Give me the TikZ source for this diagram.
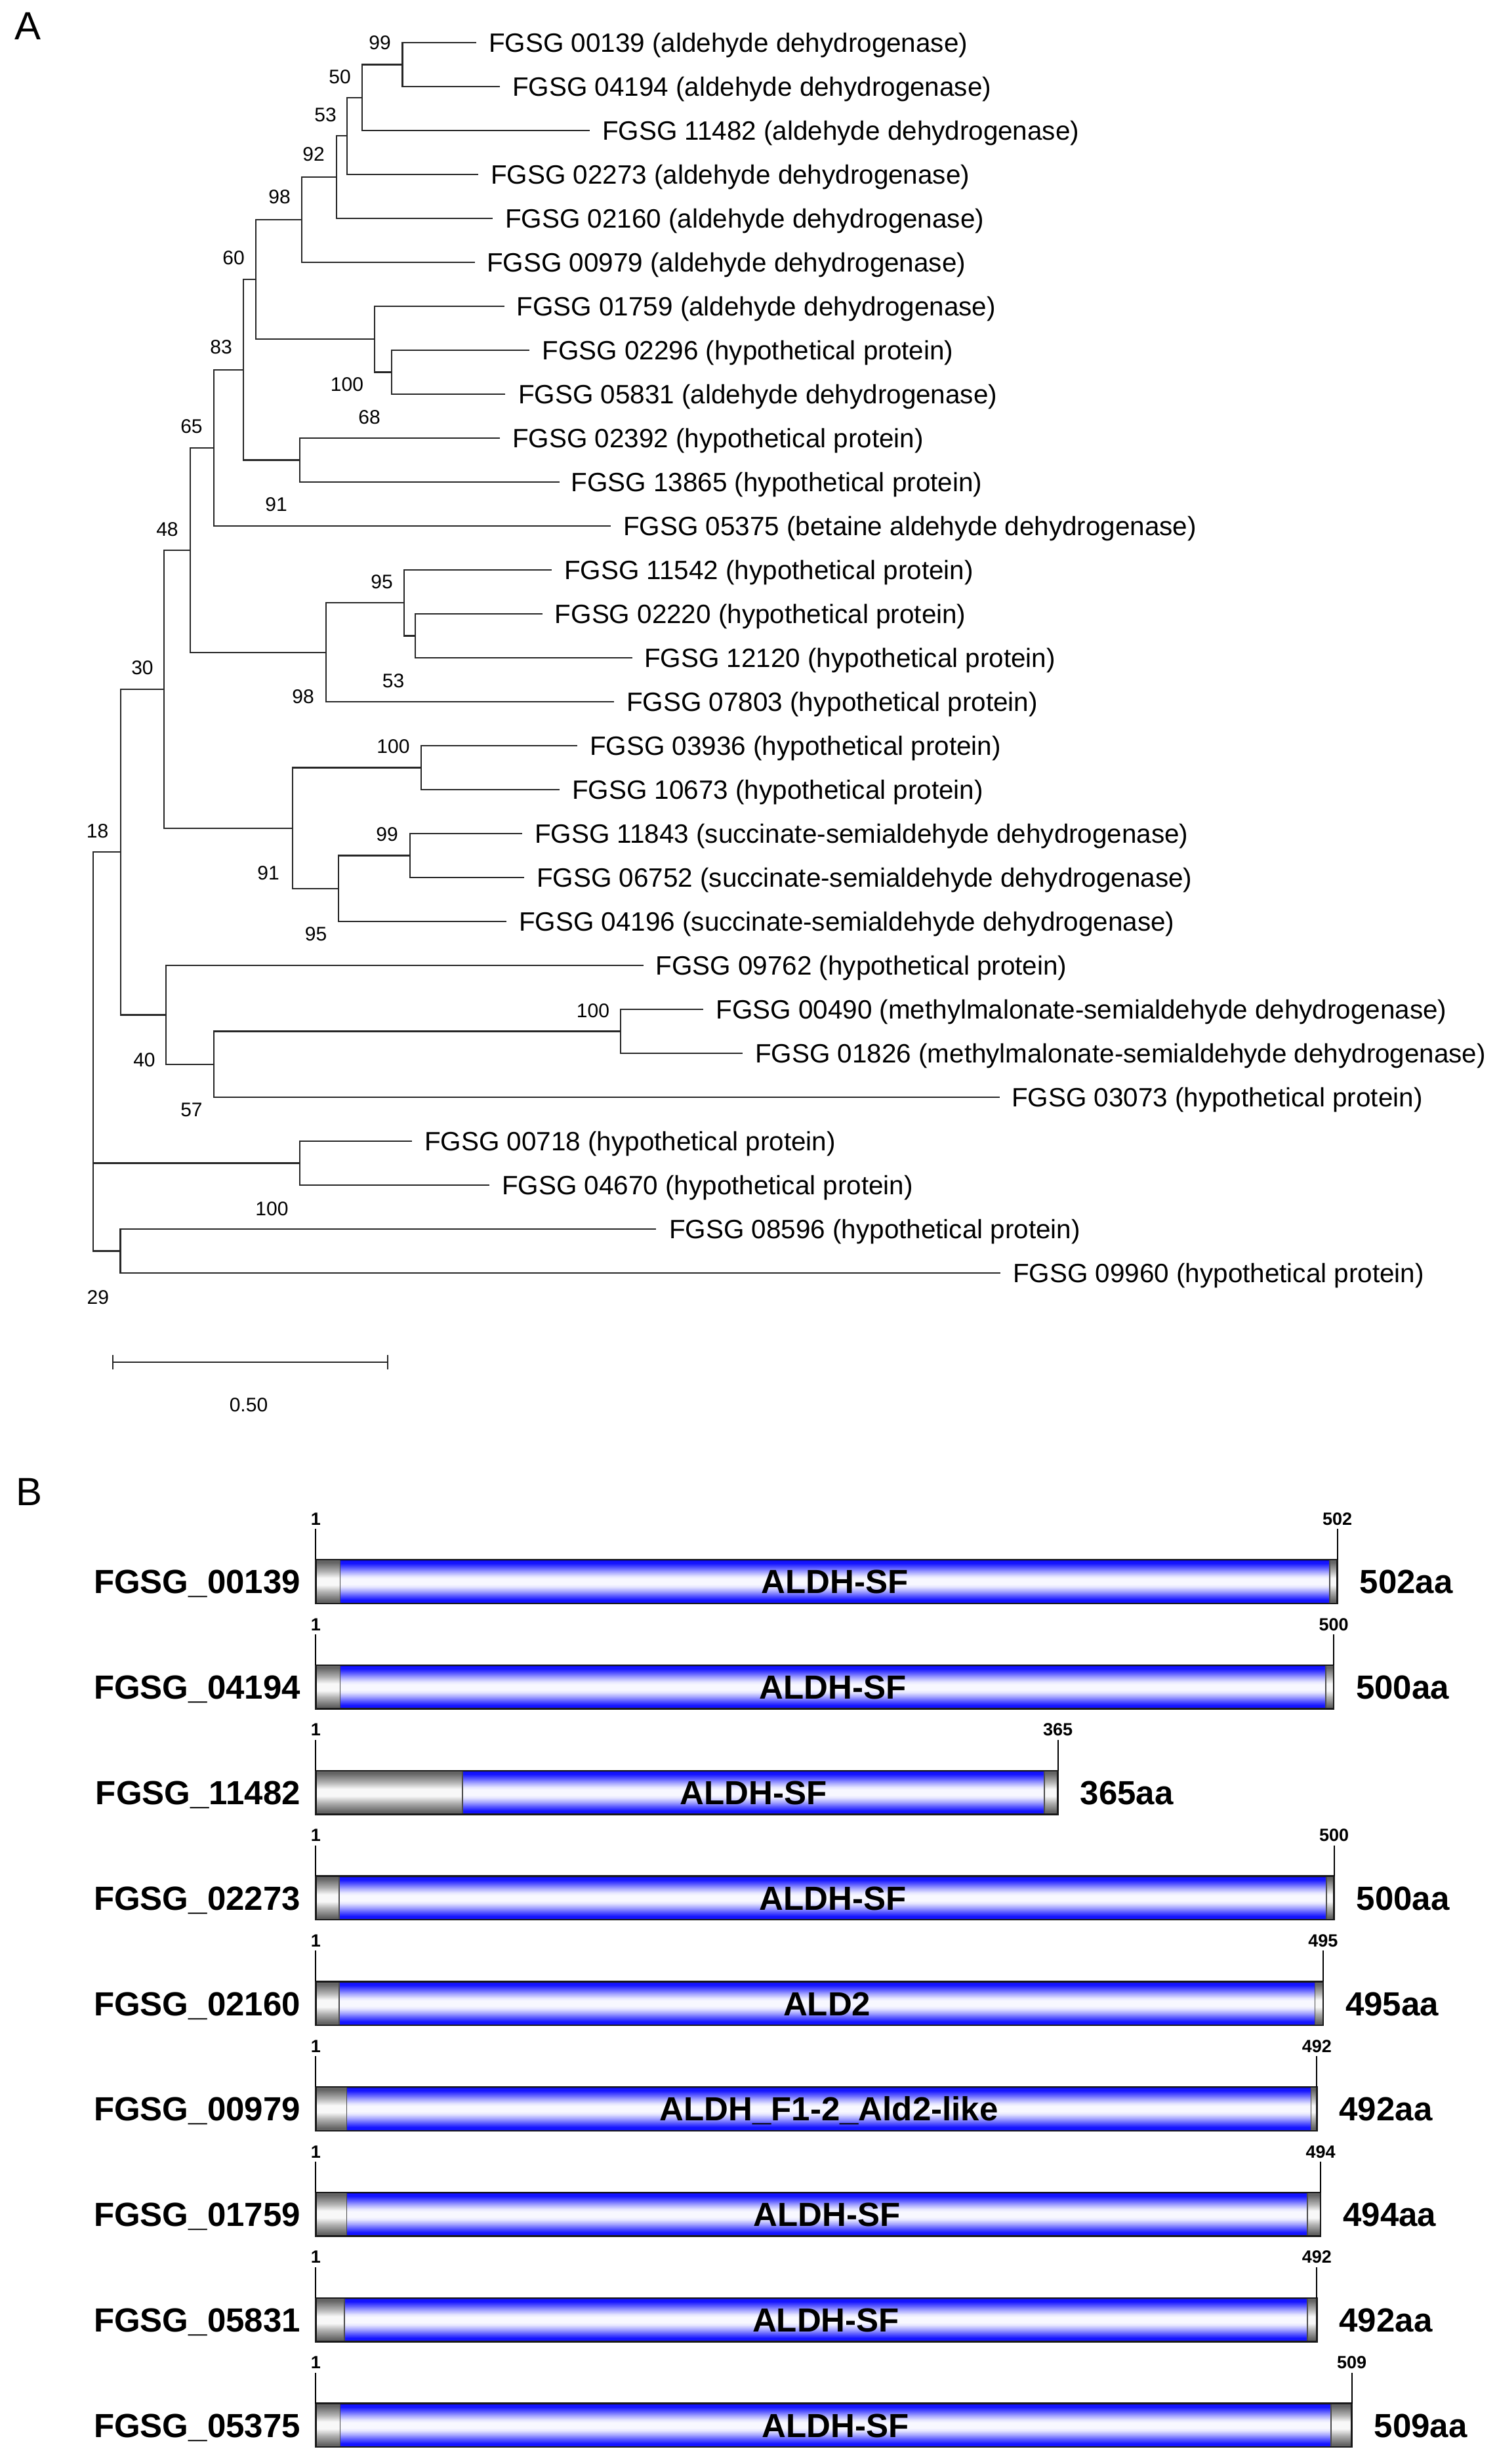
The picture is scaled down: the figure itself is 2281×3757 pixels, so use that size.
\documentclass[tikz,border=0pt]{standalone}
\usepackage{fontspec}
\setmainfont{Liberation Sans}
\newcommand{\leaffont}{\fontsize{40.4pt}{48pt}\selectfont}
\newcommand{\bootfont}{\fontsize{30pt}{36pt}\selectfont}
\newcommand{\panelfont}{\fontsize{60pt}{72pt}\selectfont}
\newcommand{\genefont}{\fontsize{51pt}{60pt}\selectfont\bfseries}
\newcommand{\tickfont}{\fontsize{27pt}{32pt}\selectfont\bfseries}
\definecolor{bdark}{RGB}{0,0,120}
\definecolor{bblue}{RGB}{20,20,255}
\definecolor{bmid}{RGB}{90,90,255}
\definecolor{blight}{RGB}{165,165,255}
\definecolor{bpale}{RGB}{230,230,255}
\definecolor{bwhite}{RGB}{248,248,255}
\definecolor{gdark}{RGB}{100,100,100}
\definecolor{gmid}{RGB}{175,175,175}
\definecolor{gwhite}{RGB}{248,248,248}
\pgfdeclareverticalshading{bluecap}{100bp}{color(0bp)=(bdark); color(25bp)=(bdark); color(26.5bp)=(bblue); color(29bp)=(bblue); color(34bp)=(bmid); color(39bp)=(blight); color(44bp)=(bpale); color(47bp)=(bwhite); color(53bp)=(bwhite); color(56bp)=(bpale); color(61bp)=(blight); color(66bp)=(bmid); color(71bp)=(bblue); color(73.5bp)=(bblue); color(75bp)=(bdark); color(100bp)=(bdark)}
\pgfdeclareverticalshading{graycap}{100bp}{color(0bp)=(gdark); color(25bp)=(gdark); color(28bp)=(gdark); color(38bp)=(gmid); color(46bp)=(gwhite); color(54bp)=(gwhite); color(62bp)=(gmid); color(72bp)=(gdark); color(75bp)=(gdark); color(100bp)=(gdark)}
\tikzset{
  br/.style={line width=2.2pt, black!85},
  leaflab/.style={anchor=base west, inner sep=0pt, font=\leaffont},
  boot/.style={anchor=base, inner sep=0pt, font=\bootfont},
  panel/.style={anchor=base, inner sep=0pt, font=\panelfont},
  baredge/.style={line width=2.5pt, black!90},
  sepline/.style={line width=1.5pt, black!70},
  tickline/.style={line width=2pt, black},
  genelab/.style={inner sep=0pt, font=\genefont},
  ticklab/.style={anchor=base, inner sep=0pt, font=\tickfont}
}
\newcommand{\treeleaf}[5]{%
  \pgfmathsetmacro{\lrowy}{65+67*#1}
  \coordinate (t#1) at (#3,\lrowy);
  \draw[br] (#2) |- (t#1);
  \node[leaflab] (l#1) at (#4,\lrowy+14.5) {#5};
}
\newcommand{\bootlab}[4]{%
  \node[boot] (#1) at (#2,#3+10.7) {#4};
}
\newcommand{\protbar}[8]{%
  \pgfmathsetmacro{\bcy}{2411.5+160.8*#1}
  \pgfmathsetmacro{\bty}{\bcy-33.3}
  \pgfmathsetmacro{\bby}{\bcy+33.3}
  \shade[shading=graycap] (481.3,\bty) rectangle (#4,\bby);
  \shade[shading=bluecap] (#4,\bty) rectangle (#5,\bby);
  \shade[shading=graycap] (#5,\bty) rectangle (#6,\bby);
  \draw[sepline] (#4,\bty) -- (#4,\bby) (#5,\bty) -- (#5,\bby);
  \draw[baredge] (481.3,\bty) rectangle (#6,\bby);
  \draw[tickline] (481.3,\bty) -- (481.3,\bty-47);
  \draw[tickline] (#6,\bty) -- (#6,\bty-47);
  \node[ticklab] (s#1) at (481.3,\bty-53) {1};
  \node[ticklab] (e#1) at (#6,\bty-53) {#3};
  \node[genelab, anchor=base east] (g#1) at (458,\bcy+18.3) {#2};
  \node[genelab, anchor=base west] (a#1) at (#6+34,\bcy+18.3) {#3aa};
  \node[genelab, anchor=base] (d#1) at ({(#4+#5)/2},\bcy+18.3) {#8};
}
\begin{document}
\begin{tikzpicture}[x=1pt,y=-1pt]
\fill[white] (0,0) rectangle (2281,3757);
\useasboundingbox (0,0) rectangle (2281,3757);

% panel letters
\node[panel] (pA) at (42.4,60.3) {A};
\node[panel] (pB) at (44.7,2295.6) {B};

% internal nodes of the tree
\coordinate (n99a) at (613.5,98.5);
\coordinate (n50) at (552,148.75);
\coordinate (n53a) at (529,207.4);
\coordinate (n92) at (513,270.2);
\coordinate (n98a) at (460,335.1);
\coordinate (n100b) at (597,567.5);
\coordinate (n100a) at (571,517.25);
\coordinate (n60) at (390,426.2);
\coordinate (n68) at (457,701.5);
\coordinate (n83) at (371,563.8);
\coordinate (n65) at (326,682.9);
\coordinate (n53b) at (633,969.5);
\coordinate (n95a) at (616,919.25);
\coordinate (n98b) at (497,994.6);
\coordinate (n48) at (290,838.8);
\coordinate (n100c) at (642,1170.5);
\coordinate (n99b) at (625,1304.5);
\coordinate (n95b) at (516,1354.75);
\coordinate (n91) at (446,1262.6);
\coordinate (n30) at (250,1050.7);
\coordinate (n100d) at (946,1572.5);
\coordinate (n57) at (326,1622.75);
\coordinate (n40) at (253,1547.4);
\coordinate (n18) at (183.7,1299);
\coordinate (n100e) at (457,1773.5);
\coordinate (n29) at (183.5,1907.5);
\coordinate (root) at (142,1603);

% internal branches
\draw[br] (n50) |- (n99a);
\draw[br] (n53a) |- (n50);
\draw[br] (n92) |- (n53a);
\draw[br] (n98a) |- (n92);
\draw[br] (n60) |- (n98a);
\draw[br] (n100a) |- (n100b);
\draw[br] (n60) |- (n100a);
\draw[br] (n83) |- (n60);
\draw[br] (n83) |- (n68);
\draw[br] (n65) |- (n83);
\draw[br] (n48) |- (n65);
\draw[br] (n95a) |- (n53b);
\draw[br] (n98b) |- (n95a);
\draw[br] (n48) |- (n98b);
\draw[br] (n30) |- (n48);
\draw[br] (n95b) |- (n99b);
\draw[br] (n91) |- (n100c);
\draw[br] (n91) |- (n95b);
\draw[br] (n30) |- (n91);
\draw[br] (n18) |- (n30);
\draw[br] (n57) |- (n100d);
\draw[br] (n40) |- (n57);
\draw[br] (n18) |- (n40);
\draw[br] (root) |- (n18);
\draw[br] (root) |- (n100e);
\draw[br] (root) |- (n29);

% leaves
\treeleaf{0}{n99a}{726}{745}{FGSG 00139 (aldehyde dehydrogenase)}
\treeleaf{1}{n99a}{762}{781}{FGSG 04194 (aldehyde dehydrogenase)}
\treeleaf{2}{n50}{899}{918}{FGSG 11482 (aldehyde dehydrogenase)}
\treeleaf{3}{n53a}{729}{748}{FGSG 02273 (aldehyde dehydrogenase)}
\treeleaf{4}{n92}{751}{770}{FGSG 02160 (aldehyde dehydrogenase)}
\treeleaf{5}{n98a}{724}{742}{FGSG 00979 (aldehyde dehydrogenase)}
\treeleaf{6}{n100a}{768.5}{787.6}{FGSG 01759 (aldehyde dehydrogenase)}
\treeleaf{7}{n100b}{807}{826.5}{FGSG 02296 (hypothetical protein)}
\treeleaf{8}{n100b}{770}{790}{FGSG 05831 (aldehyde dehydrogenase)}
\treeleaf{9}{n68}{762}{781}{FGSG 02392 (hypothetical protein)}
\treeleaf{10}{n68}{853}{870.5}{FGSG 13865 (hypothetical protein)}
\treeleaf{11}{n65}{931}{950}{FGSG 05375 (betaine aldehyde dehydrogenase)}
\treeleaf{12}{n95a}{840.6}{860}{FGSG 11542 (hypothetical protein)}
\treeleaf{13}{n53b}{826.5}{845.7}{FGSG 02220 (hypothetical protein)}
\treeleaf{14}{n53b}{964}{982}{FGSG 12120 (hypothetical protein)}
\treeleaf{15}{n98b}{936}{955}{FGSG 07803 (hypothetical protein)}
\treeleaf{16}{n100c}{880}{899}{FGSG 03936 (hypothetical protein)}
\treeleaf{17}{n100c}{852.7}{872}{FGSG 10673 (hypothetical protein)}
\treeleaf{18}{n99b}{796}{815}{FGSG 11843 (succinate-semialdehyde dehydrogenase)}
\treeleaf{19}{n99b}{799}{818}{FGSG 06752 (succinate-semialdehyde dehydrogenase)}
\treeleaf{20}{n95b}{772}{791}{FGSG 04196 (succinate-semialdehyde dehydrogenase)}
\treeleaf{21}{n40}{980.6}{999.5}{FGSG 09762 (hypothetical protein)}
\treeleaf{22}{n100d}{1072.4}{1091.3}{FGSG 00490 (methylmalonate-semialdehyde dehydrogenase)}
\treeleaf{23}{n100d}{1132}{1151}{FGSG 01826 (methylmalonate-semialdehyde dehydrogenase)}
\treeleaf{24}{n57}{1523.5}{1541.8}{FGSG 03073 (hypothetical protein)}
\treeleaf{25}{n100e}{628}{647}{FGSG 00718 (hypothetical protein)}
\treeleaf{26}{n100e}{746}{765}{FGSG 04670 (hypothetical protein)}
\treeleaf{27}{n29}{999.5}{1020}{FGSG 08596 (hypothetical protein)}
\treeleaf{28}{n29}{1525}{1544}{FGSG 09960 (hypothetical protein)}

% bootstrap values
\bootlab{b1}{579}{65}{99}
\bootlab{b2}{518}{116.5}{50}
\bootlab{b3}{496}{175}{53}
\bootlab{b4}{478}{235}{92}
\bootlab{b5}{426}{300}{98}
\bootlab{b6}{356}{393}{60}
\bootlab{b7}{529}{585.5}{100}
\bootlab{b8}{337}{529}{83}
\bootlab{b9}{563}{635.5}{68}
\bootlab{b10}{292}{650}{65}
\bootlab{b11}{421}{769}{91}
\bootlab{b12}{255}{806.5}{48}
\bootlab{b13}{582}{886.5}{95}
\bootlab{b14}{217}{1018}{30}
\bootlab{b15}{599.5}{1038}{53}
\bootlab{b16}{462}{1062}{98}
\bootlab{b17}{599.5}{1137.6}{100}
\bootlab{b18}{148.6}{1267}{18}
\bootlab{b19}{590}{1272}{99}
\bootlab{b20}{409}{1330.5}{91}
\bootlab{b21}{481.5}{1424}{95}
\bootlab{b22}{904}{1541}{100}
\bootlab{b23}{220}{1616}{40}
\bootlab{b24}{292}{1692}{57}
\bootlab{b25}{414.5}{1842.6}{100}
\bootlab{b26}{149.4}{1978}{29}

% scale bar
\coordinate (sbl) at (172,2077);
\coordinate (sbr) at (591,2077);
\coordinate (sblt) at (172,2066);
\coordinate (sblb) at (172,2088);
\coordinate (sbrt) at (591,2066);
\coordinate (sbrb) at (591,2088);
\draw[br] (sbl) -- (sbr);
\draw[br] (sblt) -- (sblb);
\draw[br] (sbrt) -- (sbrb);
\bootlab{sblab}{379}{2142}{0.50}

% panel B: protein domain bars
\protbar{0}{FGSG\_00139}{502}{518.4}{2027}{2038.7}{}{ALDH-SF}
\protbar{1}{FGSG\_04194}{500}{518.4}{2021}{2033}{}{ALDH-SF}
\protbar{2}{FGSG\_11482}{365}{705}{1592}{1612.6}{}{ALDH-SF}
\protbar{3}{FGSG\_02273}{500}{517}{2022}{2033.6}{}{ALDH-SF}
\protbar{4}{FGSG\_02160}{495}{517}{2004.5}{2016.9}{}{ALD2}
\protbar{5}{FGSG\_00979}{492}{528.6}{1998.7}{2007.4}{}{ALDH\_F1-2\_Ald2-like}
\protbar{6}{FGSG\_01759}{494}{528.6}{1993}{2013.2}{}{ALDH-SF}
\protbar{7}{FGSG\_05831}{492}{525}{1993}{2007.4}{}{ALDH-SF}
\protbar{8}{FGSG\_05375}{509}{518.4}{2029}{2060.6}{}{ALDH-SF}
\end{tikzpicture}
\end{document}
